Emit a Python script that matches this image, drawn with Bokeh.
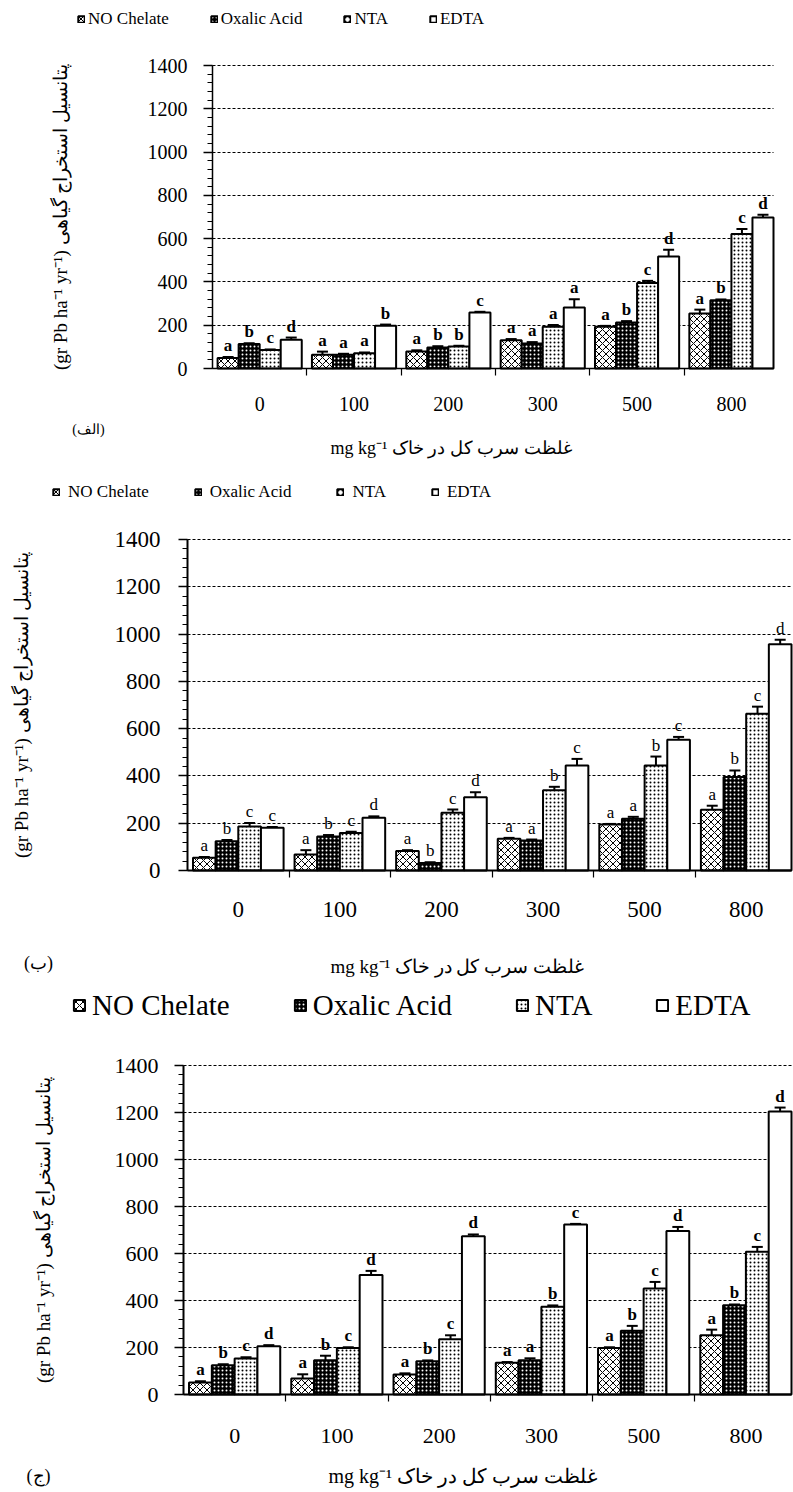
from bokeh.plotting import figure
from bokeh.layouts import column
from bokeh.models import (ColumnDataSource, Range1d, FixedTicker, SingleIntervalTicker,
                          Legend, LegendItem, Whisker, TeeHead, Label)
from bokeh.embed import file_html
from bokeh.resources import INLINE
from bokeh.core.properties import value

# ---------------- data ----------------
groups = ["0", "100", "200", "300", "500", "800"]
series = ["NO Chelate", "Oxalic Acid", "NTA", "EDTA"]

# panel (الف)
a_no = [48, 63, 79, 131, 193, 254]
a_ox = [113, 63, 97, 116, 213, 315]
a_nta = [85, 71, 102, 193, 395, 621]
a_edta = [133, 197, 259, 282, 518, 698]
a_no_err = [5, 15, 5, 5, 4, 18]
a_ox_err = [4, 5, 6, 6, 6, 4]
a_nta_err = [3, 3, 3, 8, 10, 23]
a_edta_err = [10, 6, 3, 38, 31, 12]
a_no_let = ["a", "a", "a", "a", "a", "a"]
a_ox_let = ["b", "a", "b", "a", "b", "b"]
a_nta_let = ["c", "a", "b", "a", "c", "c"]
a_edta_let = ["d", "b", "c", "a", "d", "d"]

# panel (ب)
b_no = [54, 68, 82, 134, 195, 257]
b_ox = [124, 144, 32, 127, 219, 395]
b_nta = [186, 159, 244, 339, 444, 663]
b_edta = [181, 223, 310, 444, 553, 957]
b_no_err = [3, 18, 4, 4, 2, 17]
b_ox_err = [5, 6, 3, 4, 8, 28]
b_nta_err = [15, 5, 14, 15, 38, 30]
b_edta_err = [3, 6, 21, 28, 12, 19]
b_no_let = ["a", "a", "a", "a", "a", "a"]
b_ox_let = ["b", "b", "b", "a", "a", "b"]
b_nta_let = ["c", "c", "c", "b", "b", "c"]
b_edta_let = ["c", "d", "d", "c", "c", "d"]

# panel (ج)
c_no = [51, 68, 85, 135, 198, 252]
c_ox = [125, 146, 142, 146, 271, 380]
c_nta = [153, 198, 235, 373, 451, 607]
c_edta = [205, 509, 673, 723, 696, 1204]
c_no_err = [5, 18, 5, 3, 3, 24]
c_ox_err = [4, 19, 3, 8, 21, 3]
c_nta_err = [5, 3, 17, 6, 28, 21]
c_edta_err = [5, 17, 8, 3, 17, 17]
c_no_let = ["a", "a", "a", "a", "a", "a"]
c_ox_let = ["b", "b", "b", "a", "b", "b"]
c_nta_let = ["c", "c", "c", "b", "c", "c"]
c_edta_let = ["d", "d", "d", "c", "d", "d"]

y_max = 1400
y_label = "(gr Pb ha\u207b\u00b9 yr\u207b\u00b9) پتانسیل استخراج گیاهی"
x_title = "mg kg\u207b\u00b9 غلظت سرب کل در خاک"
panel_tags = ["(الف)", "(ب)", "(ج)"]

# ---------------- style ----------------
SERIF = "Liberation Serif"
W = 793
BAR_W = 0.223
GAP = 1 - 4 * BAR_W

bar_styles = [
    dict(fill_color="white", hatch_pattern="diagonal_cross", hatch_color="black", hatch_scale=7, hatch_weight=1),
    dict(fill_color="black", hatch_pattern="dot", hatch_color="white", hatch_scale=4, hatch_weight=1),
    dict(fill_color="white", hatch_pattern="dot", hatch_color="black", hatch_scale=4, hatch_weight=1),
    dict(fill_color="white"),
]


def make_panel(vals, errs, lets, tag, g):
    # g: target pixel geometry of the plotting area inside this figure
    L, R, T, B = g["area"]          # px: y axis, end of x range, y=1400, y=0 (relative to figure top)
    h = g["h"]
    x0, x1 = -0.5, 5.5 - GAP / 2

    def xd(px):
        return x0 + (px - L) / (R - L) * (x1 - x0)

    def yd(py):
        return (B - py) / (B - T) * y_max

    p = figure(width=W, height=h, x_range=Range1d(xd(0), xd(W)), y_range=Range1d(yd(h), yd(0)),
               output_backend="svg", toolbar_location=None,
               min_border_left=0, min_border_right=0, min_border_top=0, min_border_bottom=0)
    p.outline_line_color = None
    p.xgrid.visible = False
    p.ygrid.grid_line_color = "black"
    p.ygrid.grid_line_dash = "3 2"
    p.ygrid.grid_line_width = 1
    p.ygrid.bounds = (0, y_max)
    try:
        p.ygrid.cross_bounds = (x0, x1)
    except Exception:
        p.ygrid.visible = False
        gy = list(range(200, y_max + 1, 200))
        p.segment(x0=[x0] * len(gy), x1=[x1] * len(gy), y0=gy, y1=gy,
                  line_color="black", line_dash="3 2", line_width=1, level="underlay")

    ya = p.yaxis[0]
    ya.fixed_location = x0
    ya.bounds = (0, y_max)
    ya.ticker = SingleIntervalTicker(interval=200, num_minor_ticks=5)
    ya.major_tick_out = 9
    ya.major_tick_in = 0
    ya.minor_tick_out = 5
    ya.minor_tick_in = 0
    ya.axis_line_width = g["axw"]
    ya.major_tick_line_width = 1.5
    ya.minor_tick_line_width = 1.2
    ya.axis_line_color = "black"
    ya.major_tick_line_color = "black"
    ya.minor_tick_line_color = "black"
    ya.major_label_text_font = SERIF
    ya.major_label_text_font_size = g["tick_fs"]
    ya.major_label_text_color = "black"
    ya.major_label_standoff = g["ystand"]
    ya.axis_label = y_label
    ya.axis_label_text_font = SERIF
    ya.axis_label_text_font_style = "normal"
    ya.axis_label_text_font_size = g["ylab_fs"]
    ya.axis_label_text_color = "black"
    ya.axis_label_standoff = g["ylab_stand"]

    xa = p.xaxis[0]
    xa.fixed_location = 0
    xa.bounds = (x0, x1)
    xa.ticker = FixedTicker(ticks=list(range(len(groups))),
                            minor_ticks=[i + 0.5 for i in range(len(groups) - 1)])
    xa.major_label_overrides = {i: gname for i, gname in enumerate(groups)}
    xa.major_tick_out = 0
    xa.major_tick_in = 0
    xa.minor_tick_out = 7
    xa.minor_tick_in = 0
    xa.minor_tick_line_color = "black"
    xa.minor_tick_line_width = 1.2
    xa.axis_line_width = g["axw"]
    xa.axis_line_color = "black"
    xa.major_label_text_font = SERIF
    xa.major_label_text_font_size = g["tick_fs"]
    xa.major_label_text_color = "black"
    xa.major_label_standoff = g["xstand"]

    items = []
    for s, (name, st) in enumerate(zip(series, bar_styles)):
        xs = [i + (s - 1.5) * BAR_W for i in range(len(groups))]
        up = [v + e for v, e in zip(vals[s], errs[s])]
        lo = [v - e for v, e in zip(vals[s], errs[s])]
        src = ColumnDataSource(dict(x=xs, top=vals[s], upper=up, lower=lo, letter=lets[s]))
        r = p.vbar(x="x", top="top", bottom=0, width=BAR_W, source=src,
                   line_color="black", line_width=2, **st)
        items.append(LegendItem(label=name, renderers=[r]))
        p.add_layout(Whisker(source=src, base="x", upper="upper", lower="lower",
                             line_color="black", line_width=2,
                             upper_head=TeeHead(size=11, line_color="black", line_width=2),
                             lower_head=TeeHead(size=11, line_color="black", line_width=2)))
        p.text(x="x", y="upper", text="letter", source=src,
               text_font=value(SERIF), text_font_size=g["let_fs"],
               text_font_style=g["let_style"], text_color="black",
               text_align="center", text_baseline="bottom", y_offset=-2)

    lg = g["legend"]
    legend = Legend(items=items, orientation="horizontal",
                    location=(lg["x"], h - (lg["cy"] + lg["h"] / 2)),
                    glyph_width=lg["gw"], glyph_height=lg["gw"],
                    label_standoff=lg["stand"], spacing=lg["spacing"],
                    padding=0, margin=0, border_line_color=None,
                    background_fill_alpha=0, label_height=lg["h"],
                    label_text_font=SERIF, label_text_font_size=lg["fs"],
                    label_text_color="black")
    p.add_layout(legend, "center")

    p.add_layout(Label(x=xd(g["title_x"]), y=yd(g["title_y"]), text=x_title,
                       text_font=SERIF, text_font_size=g["title_fs"], text_color="black",
                       text_align="left", text_baseline="middle"))
    p.add_layout(Label(x=xd(g["tag_x"]), y=yd(g["tag_y"]), text=tag,
                       text_font=SERIF, text_font_size=g["tag_fs"], text_color="black",
                       text_align="center", text_baseline="middle"))
    return p


# all positions below are pixels relative to each figure's top-left corner
geo1 = dict(h=468, area=(212, 773, 65, 368), axw=1.5,
            tick_fs="20px", ystand=16, xstand=21, ylab_fs="19px", ylab_stand=74,
            let_fs="17px", let_style="bold",
            legend=dict(x=77, cy=19, h=20, gw=8, stand=3, spacing=41, fs="17px"),
            title_x=330, title_y=447, title_fs="18px", tag_x=88, tag_y=429, tag_fs="14px")
geo2 = dict(h=512, area=(187, 791, 539 - 468, 870 - 468), axw=2,
            tick_fs="23px", ystand=18, xstand=24, ylab_fs="19px", ylab_stand=80,
            let_fs="17px", let_style="normal",
            legend=dict(x=52, cy=492 - 468, h=20, gw=8, stand=8, spacing=45, fs="17px"),
            title_x=330, title_y=966 - 468, title_fs="19px", tag_x=38, tag_y=962 - 468, tag_fs="18px")
geo3 = dict(h=512, area=(183, 791, 1065 - 980, 1394 - 980), axw=2,
            tick_fs="22px", ystand=16, xstand=27, ylab_fs="19px", ylab_stand=58,
            let_fs="17px", let_style="bold",
            legend=dict(x=72, cy=1005 - 980, h=34, gw=14, stand=6, spacing=63, fs="29px"),
            title_x=328, title_y=1475 - 980, title_fs="20px", tag_x=38, tag_y=1475 - 980, tag_fs="18px")

p1 = make_panel([a_no, a_ox, a_nta, a_edta], [a_no_err, a_ox_err, a_nta_err, a_edta_err],
                [a_no_let, a_ox_let, a_nta_let, a_edta_let], panel_tags[0], geo1)
p2 = make_panel([b_no, b_ox, b_nta, b_edta], [b_no_err, b_ox_err, b_nta_err, b_edta_err],
                [b_no_let, b_ox_let, b_nta_let, b_edta_let], panel_tags[1], geo2)
p3 = make_panel([c_no, c_ox, c_nta, c_edta], [c_no_err, c_ox_err, c_nta_err, c_edta_err],
                [c_no_let, c_ox_let, c_nta_let, c_edta_let], panel_tags[2], geo3)

layout = column(p1, p2, p3, spacing=0)
open("out.html", "w").write(file_html(layout, INLINE))
